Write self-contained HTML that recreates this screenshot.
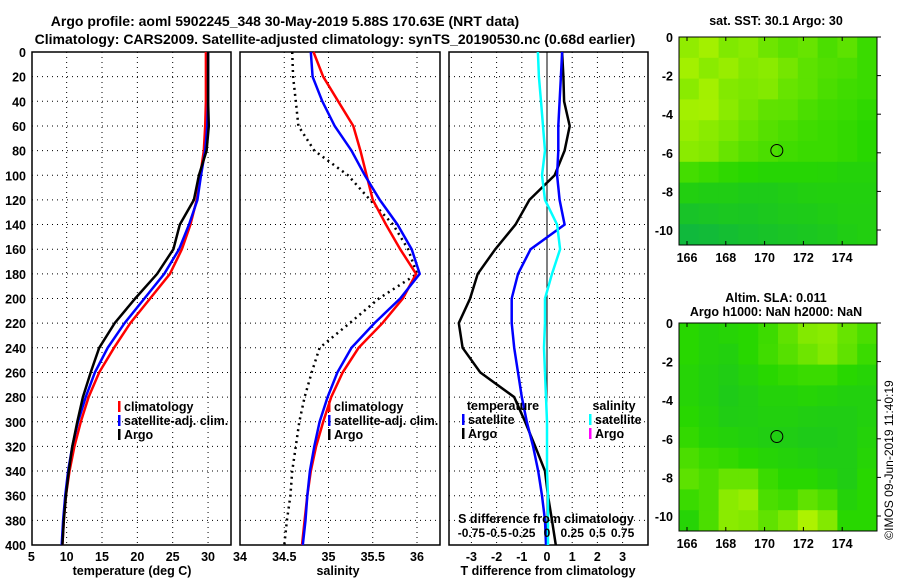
<!DOCTYPE html>
<html><head><meta charset="utf-8"><style>
body{margin:0;background:#fff;}
svg{display:block;font-family:"Liberation Sans",sans-serif;font-weight:bold;}
</style></head><body>
<svg id="c" width="900" height="580" viewBox="0 0 900 580"></svg>
<script>
const depths=[0,20,40,60,80,100,120,140,160,180,200,220,240,260,280,300,320,340,360,380,400];
const tClim=[29.7,29.7,29.7,29.6,29.4,28.9,28.4,27.5,26.3,24.6,21.8,19.0,16.7,14.6,13.1,12.0,11.1,10.4,9.9,9.6,9.4];
const tSat=[30.0,30.0,30.0,29.9,29.6,29.0,28.5,27.3,25.9,23.8,21.0,18.2,15.8,14.0,12.7,11.6,10.8,10.2,9.8,9.5,9.3];
const tArgo=[30.0,30.0,30.0,30.1,29.8,28.7,28.0,26.0,25.1,22.8,19.7,16.8,14.6,13.4,12.3,11.5,10.8,10.3,9.9,9.6,9.4];
const sClim=[34.83,34.94,35.11,35.28,35.36,35.43,35.5,35.65,35.81,35.99,35.84,35.61,35.34,35.16,35.03,34.94,34.86,34.8,34.76,34.73,34.7];
const sSat=[34.8,34.82,34.93,35.07,35.26,35.41,35.58,35.78,35.94,36.03,35.81,35.52,35.26,35.1,34.99,34.9,34.84,34.79,34.76,34.74,34.71];
const sArgo=[34.59,34.6,34.63,34.66,34.84,35.22,35.47,35.73,35.9,36.0,35.57,35.24,34.9,34.81,34.73,34.67,34.63,34.59,34.57,34.53,34.5];
const dTSat=[0.6,0.55,0.5,0.45,0.45,0.4,0.5,0.7,-0.65,-1.15,-1.4,-1.4,-1.3,-1.15,-1.0,-0.8,-0.55,-0.35,-0.2,-0.08,-0.04];
const dTArgo=[0.6,0.65,0.68,0.9,0.7,0.3,-0.7,-1.25,-2.05,-2.75,-3.05,-3.5,-3.35,-2.65,-1.3,-0.87,-0.47,-0.08,0.04,0.2,0.35];
const dSSat=[-0.09,-0.08,-0.06,-0.04,-0.02,-0.05,-0.02,0.1,0.13,0.05,-0.02,-0.02,-0.03,-0.02,-0.01,0,0,0,0.01,0.01,0.01];
const tTicks=[5,10,15,20,25,30];
const sTicks=[34,34.5,35,35.5,36];
const dTicks=[-3,-2,-1,0,1,2,3];
const dsTicks=["-0.75","-0.5","-0.25","0","0.25","0.5","0.75"];
const dTicksS=[-0.75,-0.5,-0.25,0,0.25,0.5,0.75];
const dTicksD=[0,20,40,60,80,100,120,140,160,180,200,220,240,260,280,300,320,340,360,380,400];
const lonTicks=[166,168,170,172,174];
const latTicks=[0,-2,-4,-6,-8,-10];
const sstGrid=[
[.8,.85,.75,.78,.7,.65,.68,.6,.65,.55],
[.85,.78,.82,.76,.78,.72,.65,.62,.6,.55],
[.78,.85,.76,.74,.76,.68,.65,.6,.57,.55],
[.85,.86,.78,.72,.66,.65,.6,.57,.55,.52],
[.82,.78,.74,.68,.63,.6,.57,.55,.53,.5],
[.78,.76,.68,.63,.6,.57,.55,.55,.53,.5],
[.58,.55,.52,.5,.48,.48,.48,.47,.45,.45],
[.42,.4,.4,.38,.38,.4,.42,.43,.43,.43],
[.3,.32,.34,.33,.35,.37,.38,.4,.42,.42],
[.2,.22,.25,.28,.3,.32,.34,.36,.4,.42]];
const slaGrid=[
[.5,.45,.47,.5,.56,.66,.76,.78,.68,.6],
[.5,.45,.43,.5,.57,.63,.7,.76,.66,.55],
[.47,.43,.4,.45,.5,.53,.55,.55,.5,.47],
[.47,.43,.38,.41,.45,.45,.47,.45,.43,.43],
[.5,.45,.4,.41,.43,.43,.41,.4,.4,.43],
[.53,.47,.45,.43,.41,.4,.38,.38,.4,.45],
[.6,.55,.53,.5,.47,.45,.43,.4,.4,.47],
[.65,.6,.68,.68,.55,.5,.5,.45,.4,.5],
[.55,.6,.78,.82,.6,.57,.66,.6,.45,.5],
[.47,.6,.78,.76,.66,.74,.88,.76,.5,.5]];
const svg=document.getElementById('c');
const NS='http://www.w3.org/2000/svg';
function el(t,a,p){const e=document.createElementNS(NS,t);for(const k in a)e.setAttribute(k,a[k]);(p||svg).appendChild(e);return e;}
function txt(x,y,s,o){const e=el('text',Object.assign({x:x,y:y,'font-size':12.5,'text-anchor':'middle',fill:'#000'},o||{}));e.textContent=s;return e;}
const Y0=52,Y1=545;
const yD=d=>Y0+(Y1-Y0)*d/400;
function panel(x0,x1,name){
  const g=el('g',{});
  
  
  el('rect',{x:x0,y:Y0,width:x1-x0,height:Y1-Y0,fill:'#fff',stroke:'#000','stroke-width':1.5},g);
  dTicksD.forEach(d=>{if(d>0&&d<400)el('line',{x1:x0,x2:x1,y1:yD(d),y2:yD(d),stroke:'#000','stroke-dasharray':'1 4','stroke-width':1},g);});
  return g;
}
function vgrid(g,xs,x0,x1){xs.forEach(x=>{if(x>x0+1&&x<x1-1)el('line',{x1:x,x2:x,y1:Y0,y2:Y1,stroke:'#000','stroke-dasharray':'1 4'},g);});}
function line(g,vals,xf,color,name,w,dash){
  const pts=vals.map((v,i)=>xf(v).toFixed(1)+','+yD(depths[i]).toFixed(1)).join(' ');
  const p=el('polyline',{points:pts,fill:'none',stroke:color,'stroke-width':w||2.5},g);
  if(dash)p.setAttribute('stroke-dasharray',dash);
  
  
}
let t1=txt(285,26,'Argo profile: aoml 5902245_348 30-May-2019 5.88S 170.63E (NRT data)',{'font-size':14});

let t2=txt(335,44,'Climatology: CARS2009. Satellite-adjusted climatology: synTS_20190530.nc (0.68d earlier)',{'font-size':14});

const xT=v=>31.3+(v-5)*7.07;
const p1=panel(32,231,'temperature-panel');
vgrid(p1,tTicks.map(xT),32,231);
dTicksD.forEach(d=>{const l=txt(26,yD(d)+5,String(d),{'text-anchor':'end'});});
tTicks.forEach(v=>{const l=txt(xT(v),561,String(v));});
line(p1,tClim,xT,'#f00','temp-climatology-line');
line(p1,tSat,xT,'#00f','temp-satellite-line');
line(p1,tArgo,xT,'#000','temp-argo-line');
let xl=txt(132,575,'temperature (deg C)');
function legend(x,y,items,name){
  const g=el('g',{});
  items.forEach((it,i)=>{el('rect',{x:x,y:y+i*14-10,width:2.5,height:11,fill:it[1]},g);
    const t=txt(x+6,y+i*14,it[0],{'text-anchor':'start'});g.appendChild(t);});
}
legend(118,411,[['climatology','#f00'],['satellite-adj. clim.','#00f'],['Argo','#000']],'temperature-legend');
const xS=v=>240+(v-34)*88.5;
const p2=panel(240,440,'salinity-panel');
vgrid(p2,sTicks.map(xS),240,440);
sTicks.forEach(v=>{const l=txt(xS(v),561,String(v));});
line(p2,sArgo,xS,'#000','salinity-argo-line',2.5,'2 4');
line(p2,sClim,xS,'#f00','salinity-climatology-line');
line(p2,sSat,xS,'#00f','salinity-satellite-line');
let xl2=txt(338,575,'salinity');
legend(328,411,[['climatology','#f00'],['satellite-adj. clim.','#00f'],['Argo','#000']],'salinity-legend');
const xDT=v=>547+v*25.2;
const xDS=v=>547+v*100.8;
const p3=panel(449,648,'difference-panel');
vgrid(p3,dTicks.map(xDT),449,648);
el('line',{x1:547,x2:547,y1:Y0,y2:Y1,stroke:'#000','stroke-width':1},p3);
dTicks.forEach(v=>{const l=txt(xDT(v),561,String(v));});
dTicksS.forEach((v,i)=>{const l=txt(xDS(v),537,dsTicks[i],{'font-size':12});});
let sl=txt(546,523,'S difference from climatology');
line(p3,dTArgo,xDT,'#000','t-diff-argo-line');
line(p3,dTSat,xDT,'#00f','t-diff-satellite-line');
line(p3,dSSat,xDS,'#0ff','s-diff-satellite-line');
let xl3=txt(548,575,'T difference from climatology');
txt(503,410,'temperature');txt(614,410,'salinity');
legend(462,424,[['satellite','#00f'],['Argo','#000']],'t-diff-legend');
legend(589,424,[['satellite','#0ff'],['Argo','#f0f']],'s-diff-legend');
function col(v){const a=[0,165,100],b=[40,215,0],c=[215,250,0];let r,g,bb;
 if(v<.5){const t=v/.5;r=a[0]+(b[0]-a[0])*t;g=a[1]+(b[1]-a[1])*t;bb=a[2]+(b[2]-a[2])*t;}
 else{const t=(v-.5)/.5;r=b[0]+(c[0]-b[0])*t;g=b[1]+(c[1]-b[1])*t;bb=b[2]+(c[2]-b[2])*t;}
 return 'rgb('+[r,g,bb].map(Math.round).join(',')+')';}
function map(y0,grid,name){
  const x0=679,x1=877,y1=y0+208;
  const g=el('g',{});
  const cw=(x1-x0)/grid[0].length,ch=(y1-y0)/grid.length;
  grid.forEach((row,i)=>row.forEach((v,j)=>{const r=el('rect',{x:x0+j*cw,y:y0+i*ch,width:cw+0.5,height:ch+0.5,fill:col(v)},g);
    }));
  el('rect',{x:x0,y:y0,width:x1-x0,height:y1-y0,fill:'none',stroke:'#000','stroke-width':1},g);
  const lx=v=>687+(v-166)*19.4, ly=v=>y0+(-v)*19.3;
  lonTicks.forEach(v=>{txt(lx(v),y1+17,String(v),{'font-size':12.5});el('line',{x1:lx(v),x2:lx(v),y1:y0,y2:y0+4,stroke:'#000'},g);el('line',{x1:lx(v),x2:lx(v),y1:y1,y2:y1-4,stroke:'#000'},g);});
  latTicks.forEach(v=>{txt(673,ly(v)+5,String(v),{'text-anchor':'end','font-size':12.5});el('line',{x1:x1,x2:x1+4,y1:ly(v),y2:ly(v),stroke:'#000'},g);});
  const c=el('circle',{cx:lx(170.63),cy:ly(-5.88),r:6,fill:'none',stroke:'#000'},g);
  
}
txt(776,25,'sat. SST: 30.1 Argo: 30');
map(37,sstGrid,'sst-map');
txt(776,302,'Altim. SLA: 0.011');
txt(776,316,'Argo h1000: NaN h2000: NaN');
map(323,slaGrid,'sla-map');
const cp=txt(893,460,'©IMOS 09-Jun-2019 11:40:19',{'font-weight':'normal','font-size':12,transform:'rotate(-90 893 460)'});

</script>
</body></html>
